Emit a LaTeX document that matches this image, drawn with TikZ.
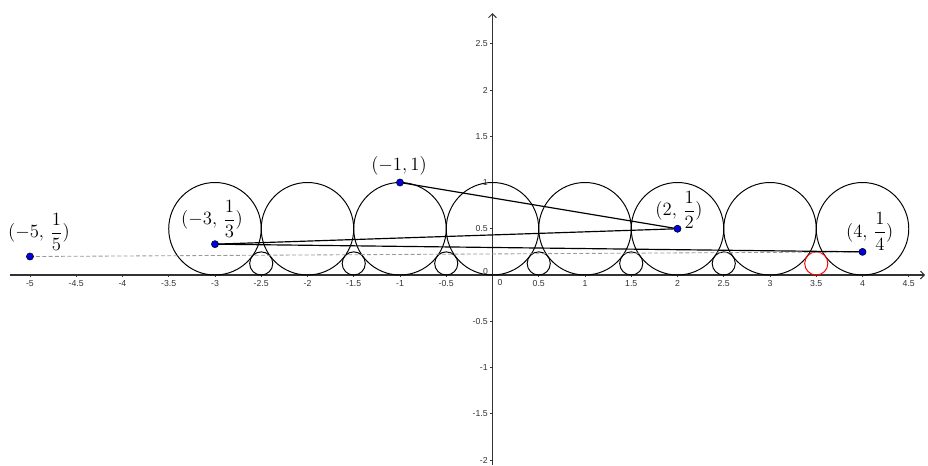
\documentclass[tikz,border=0pt]{standalone}
\usepackage{fontspec}
\usepackage{amsmath}
\newfontfamily\tickfont{Liberation Sans}
\usetikzlibrary{arrows.meta}
\definecolor{axisgray}{HTML}{333333}
\definecolor{dashgray}{HTML}{999999}
\definecolor{ptblue}{HTML}{0000E0}
\tikzset{
  axisline/.style={line width=0.9pt, draw=axisgray, -{Straight Barb[length=3pt,width=6pt,line width=0.8pt]}},
  fordbig/.style={line width=0.75pt, draw=black},
  fordsmall/.style={line width=0.75pt, draw=black},
  fordred/.style={line width=0.75pt, draw=red},
  seg/.style={line width=0.9pt, draw=black},
  dashseg/.style={line width=0.65pt, draw=dashgray, dash pattern=on 3pt off 1.8pt},
  ptdot/.style={circle, fill=ptblue, draw=black, line width=0.4pt, inner sep=0pt, minimum size=5.5pt},
  ptlabel/.style={inner sep=0pt, font=\fontsize{14}{16}\selectfont},
  xtick/.style={inner sep=0pt, font=\tickfont\fontsize{6.7}{8}\selectfont, text=axisgray},
  ytick/.style={inner sep=0pt, anchor=east, font=\tickfont\fontsize{6.7}{8}\selectfont, text=axisgray},
  tickmark/.style={line width=0.5pt, draw=axisgray}
}
\begin{document}
\begin{tikzpicture}[x=2.5cm,y=2.5cm]
\useasboundingbox (-5.324,-2.054) rectangle (4.708,2.973);
% axes
\coordinate (xs) at (-5.216,0);
\coordinate (xe) at (4.676,0);
\coordinate (ys) at (0,-2.054);
\coordinate (ye) at (0,2.832);
\draw[axisline] (xs) -- (xe);
\draw[axisline] (ys) -- (ye);
% x ticks and labels
\foreach \v/\t [count=\i] in {-5/-5,-4.5/-4.5,-4/-4,-3.5/-3.5,-3/-3,-2.5/-2.5,-2/-2,-1.5/-1.5,-1/-1,-0.5/-0.5,0.5/0.5,1/1,1.5/1.5,2/2,2.5/2.5,3/3,3.5/3.5,4/4,4.5/4.5}{
  \coordinate (xt\i) at (\v,0);
  \draw[tickmark] (xt\i) -- ++(0,-0.022);
  \node[xtick] (xl\i) at (\v,-0.092) {\t};
}
\node[xtick] (xl0) at (0.081,-0.081) {0};
% y ticks and labels
\foreach \v/\t [count=\i] in {-2/-2,-1.5/-1.5,-1/-1,-0.5/-0.5,0.5/0.5,1/1,1.5/1.5,2/2,2.5/2.5}{
  \coordinate (yt\i) at (0,\v);
  \draw[tickmark] (yt\i) -- ++(-0.022,0);
  \node[ytick] (yl\i) at (-0.049,\v) {\t};
}
\node[xtick] (yl0) at (-0.074,0.043) {0};
% Ford circles
\foreach \n in {-3,-2,-1,0,1,2,3,4}{
  \draw[fordbig] (\n,0.5) circle[radius=0.5];
}
\foreach \n in {-2.5,-1.5,-0.5,0.5,1.5,2.5}{
  \draw[fordsmall] (\n,0.125) circle[radius=0.125];
}
\draw[fordred] (3.5,0.125) circle[radius=0.125];
% points
\coordinate (P5) at (-5,0.2);
\coordinate (P3) at (-3,1/3);
\coordinate (P1) at (-1,1);
\coordinate (P2) at (2,0.5);
\coordinate (P4) at (4,0.25);
% connectors
\draw[dashseg] (P5) -- (P4);
\draw[seg] (P1) -- (P2);
\draw[seg] (P2) -- (P3);
\draw[seg] (P3) -- (P4);
% dots
\node[ptdot] (d5) at (P5) {};
\node[ptdot] (d3) at (P3) {};
\node[ptdot] (d1) at (P1) {};
\node[ptdot] (d2) at (P2) {};
\node[ptdot] (d4) at (P4) {};
% labels
\node[ptlabel] (l5) at (-4.903,0.465) {$(-5,\,\dfrac{1}{5})$};
\node[ptlabel] (l3) at (-3.032,0.605) {$(-3,\,\dfrac{1}{3})$};
\node[ptlabel] (l1) at (-1.011,1.18) {$(-1,1)$};
\node[ptlabel] (l2) at (2.016,0.705) {$(2,\,\dfrac{1}{2})$};
\node[ptlabel] (l4) at (4.078,0.47) {$(4,\,\dfrac{1}{4})$};
\end{tikzpicture}
\end{document}
